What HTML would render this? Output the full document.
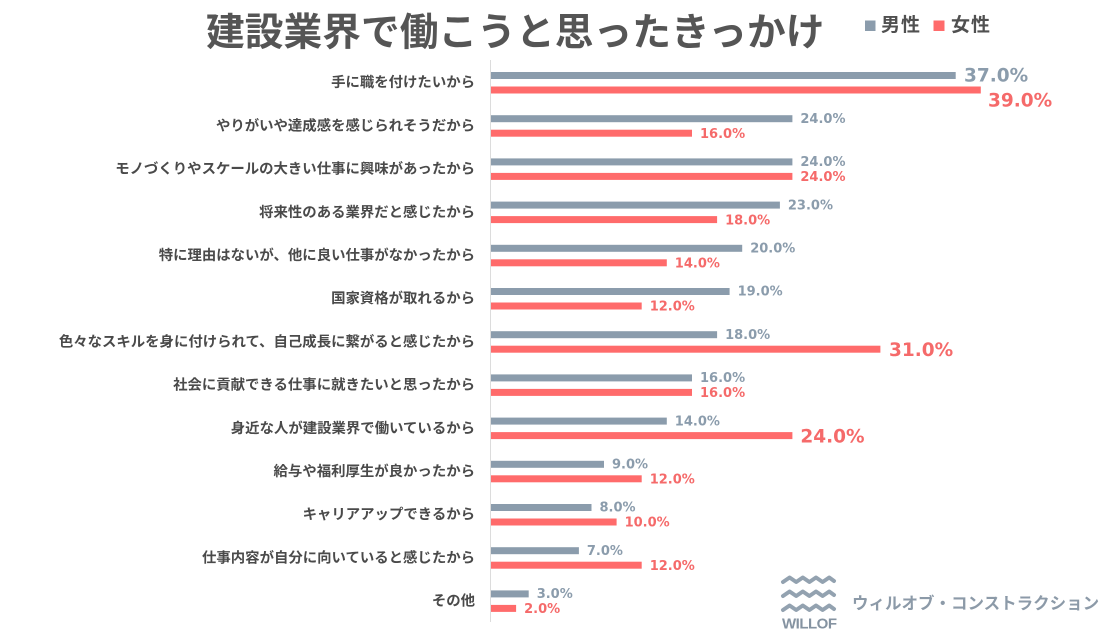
<!DOCTYPE html>
<html>
<head>
<meta charset="utf-8">
<style>
html,body{margin:0;padding:0;background:#fff;}
svg{display:block;}
.cat{font-family:"Liberation Sans","Noto Sans CJK JP",sans-serif;font-weight:700;font-size:14.4px;fill:#4a4a4a;}
.num{font-family:"DejaVu Sans",sans-serif;font-weight:700;}
.m{fill:#8b9cac;}
.f{fill:#f56a6a;}
</style>
</head>
<body>
<svg width="1111" height="639" viewBox="0 0 1111 639" xmlns="http://www.w3.org/2000/svg">
<rect width="1111" height="639" fill="#fff"/>
<!-- Title -->
<text x="206" y="45.7" font-family="'Liberation Sans','Noto Sans CJK JP',sans-serif" font-weight="700" font-size="38.75" fill="#555555">建設業界で働こうと思ったきっかけ</text>
<!-- Legend -->
<rect x="865" y="20.5" width="10.5" height="10.5" fill="#8b9cac"/>
<text x="881" y="31.2" font-family="'Liberation Sans','Noto Sans CJK JP',sans-serif" font-weight="700" font-size="19" letter-spacing="1" fill="#505050">男性</text>
<rect x="933.5" y="20.5" width="11" height="10.5" fill="#ff6b6b"/>
<text x="951" y="31.2" font-family="'Liberation Sans','Noto Sans CJK JP',sans-serif" font-weight="700" font-size="19" letter-spacing="1" fill="#505050">女性</text>

<!-- axis -->
<line x1="490.5" y1="60" x2="490.5" y2="622" stroke="#dcdcdc" stroke-width="1"/>

<g id="bars">
<!-- row 0 -->
<rect x="491" y="72" width="464.7" height="7" fill="#8b9cac"/>
<rect x="491" y="86.5" width="489.8" height="7" fill="#ff6b6b"/>
<!-- row 1 -->
<rect x="491" y="115.2" width="301.4" height="7" fill="#8b9cac"/>
<rect x="491" y="129.7" width="201" height="7" fill="#ff6b6b"/>
<!-- row 2 -->
<rect x="491" y="158.4" width="301.4" height="7" fill="#8b9cac"/>
<rect x="491" y="172.9" width="301.4" height="7" fill="#ff6b6b"/>
<!-- row 3 -->
<rect x="491" y="201.6" width="288.9" height="7" fill="#8b9cac"/>
<rect x="491" y="216.1" width="226.1" height="7" fill="#ff6b6b"/>
<!-- row 4 -->
<rect x="491" y="244.8" width="251.2" height="7" fill="#8b9cac"/>
<rect x="491" y="259.3" width="175.8" height="7" fill="#ff6b6b"/>
<!-- row 5 -->
<rect x="491" y="288" width="238.6" height="7" fill="#8b9cac"/>
<rect x="491" y="302.5" width="150.7" height="7" fill="#ff6b6b"/>
<!-- row 6 -->
<rect x="491" y="331.2" width="226.1" height="7" fill="#8b9cac"/>
<rect x="491" y="345.7" width="389.4" height="7" fill="#ff6b6b"/>
<!-- row 7 -->
<rect x="491" y="374.4" width="201" height="7" fill="#8b9cac"/>
<rect x="491" y="388.9" width="201" height="7" fill="#ff6b6b"/>
<!-- row 8 -->
<rect x="491" y="417.6" width="175.8" height="7" fill="#8b9cac"/>
<rect x="491" y="432.1" width="301.4" height="7" fill="#ff6b6b"/>
<!-- row 9 -->
<rect x="491" y="460.8" width="113" height="7" fill="#8b9cac"/>
<rect x="491" y="475.3" width="150.7" height="7" fill="#ff6b6b"/>
<!-- row 10 -->
<rect x="491" y="504" width="100.5" height="7" fill="#8b9cac"/>
<rect x="491" y="518.5" width="125.6" height="7" fill="#ff6b6b"/>
<!-- row 11 -->
<rect x="491" y="547.2" width="87.9" height="7" fill="#8b9cac"/>
<rect x="491" y="561.7" width="150.7" height="7" fill="#ff6b6b"/>
<!-- row 12 -->
<rect x="491" y="590.4" width="37.7" height="7" fill="#8b9cac"/>
<rect x="491" y="604.9" width="25.1" height="7" fill="#ff6b6b"/>
</g>

<g class="cat" text-anchor="end">
<text x="475" y="87.2">手に職を付けたいから</text>
<text x="475" y="130.4">やりがいや達成感を感じられそうだから</text>
<text x="475" y="173.6">モノづくりやスケールの大きい仕事に興味があったから</text>
<text x="475" y="216.8">将来性のある業界だと感じたから</text>
<text x="475" y="260">特に理由はないが、他に良い仕事がなかったから</text>
<text x="475" y="303.2">国家資格が取れるから</text>
<text x="475" y="346.4">色々なスキルを身に付けられて、自己成長に繋がると感じたから</text>
<text x="475" y="389.6">社会に貢献できる仕事に就きたいと思ったから</text>
<text x="475" y="432.8">身近な人が建設業界で働いているから</text>
<text x="475" y="476">給与や福利厚生が良かったから</text>
<text x="475" y="519.2">キャリアアップできるから</text>
<text x="475" y="562.4">仕事内容が自分に向いていると感じたから</text>
<text x="475" y="605.6">その他</text>
</g>

<g class="num">
<!-- row 0 big -->
<text class="m" x="964" y="81.3" font-size="18.5">37.0%</text>
<text class="f" x="988" y="106.5" font-size="18.5">39.0%</text>
<!-- row 1 -->
<text class="m" x="800.4" y="122.9" font-size="13">24.0%</text>
<text class="f" x="700" y="137.9" font-size="13">16.0%</text>
<!-- row 2 -->
<text class="m" x="800.4" y="166.1" font-size="13">24.0%</text>
<text class="f" x="800.4" y="181.1" font-size="13">24.0%</text>
<!-- row 3 -->
<text class="m" x="787.9" y="209.3" font-size="13">23.0%</text>
<text class="f" x="725.1" y="224.3" font-size="13">18.0%</text>
<!-- row 4 -->
<text class="m" x="750.2" y="252.5" font-size="13">20.0%</text>
<text class="f" x="674.8" y="267.5" font-size="13">14.0%</text>
<!-- row 5 -->
<text class="m" x="737.6" y="295.7" font-size="13">19.0%</text>
<text class="f" x="649.7" y="310.7" font-size="13">12.0%</text>
<!-- row 6 -->
<text class="m" x="725.1" y="338.9" font-size="13">18.0%</text>
<text class="f" x="889" y="355.9" font-size="18.5">31.0%</text>
<!-- row 7 -->
<text class="m" x="700" y="382.1" font-size="13">16.0%</text>
<text class="f" x="700" y="397.1" font-size="13">16.0%</text>
<!-- row 8 -->
<text class="m" x="674.8" y="425.3" font-size="13">14.0%</text>
<text class="f" x="800.4" y="442.4" font-size="18.5">24.0%</text>
<!-- row 9 -->
<text class="m" x="612" y="468.5" font-size="13">9.0%</text>
<text class="f" x="649.7" y="483.5" font-size="13">12.0%</text>
<!-- row 10 -->
<text class="m" x="599.5" y="511.7" font-size="13">8.0%</text>
<text class="f" x="624.6" y="526.7" font-size="13">10.0%</text>
<!-- row 11 -->
<text class="m" x="586.9" y="554.9" font-size="13">7.0%</text>
<text class="f" x="649.7" y="569.9" font-size="13">12.0%</text>
<!-- row 12 -->
<text class="m" x="536.7" y="598.1" font-size="13">3.0%</text>
<text class="f" x="524.1" y="613.1" font-size="13">2.0%</text>
</g>

<!-- Logo -->
<g fill="none" stroke="#93a2b0" stroke-width="4" stroke-linejoin="round" stroke-linecap="round">
<polyline points="783,582 789.6,577.5 796.2,582 802.8,577.5 809.4,582 816,577.5 822.6,582 829.2,577.5 834,581"/>
<polyline points="783,596 789.6,591.5 796.2,596 802.8,591.5 809.4,596 816,591.5 822.6,596 829.2,591.5 834,595"/>
<polyline points="783,610 789.6,605.5 796.2,610 802.8,605.5 809.4,610 816,605.5 822.6,610 829.2,605.5 834,609"/>
</g>
<text x="782" y="628.5" font-family="'Liberation Sans',sans-serif" font-weight="700" font-size="15" letter-spacing="-0.5" fill="#8593a1">WILLOF</text>
<text x="852" y="608.8" font-family="'Liberation Sans','Noto Sans CJK JP',sans-serif" font-weight="700" font-size="16.5" fill="#8c9aa8">ウィルオブ・コンストラクション</text>
</svg>
</body>
</html>
